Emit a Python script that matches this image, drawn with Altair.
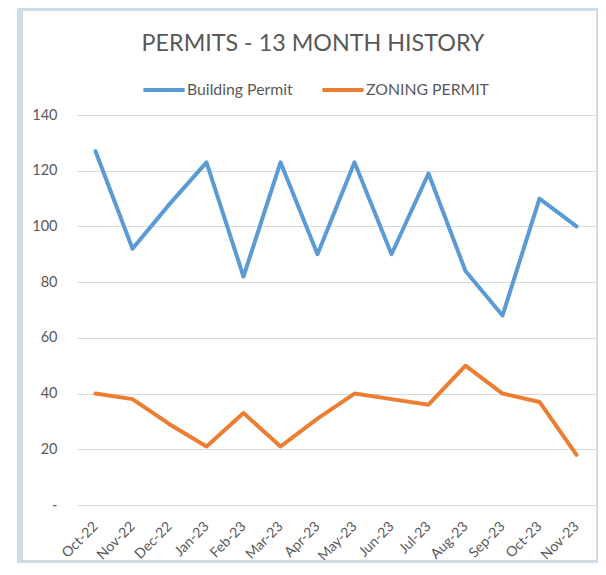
import altair as alt
import pandas as pd

months = ["Oct-22", "Nov-22", "Dec-22", "Jan-23", "Feb-23", "Mar-23", "Apr-23",
          "May-23", "Jun-23", "Jul-23", "Aug-23", "Sep-23", "Oct-23", "Nov-23"]
building_permit = [127, 92, 108, 123, 82, 123, 90, 123, 90, 119, 84, 68, 110, 100]
zoning_permit = [40, 38, 29, 21, 33, 21, 31, 40, 38, 36, 50, 40, 37, 18]
series_names = ["Building Permit", "ZONING PERMIT"]
series_colors = ["#5B9BD5", "#ED7D31"]
y_ticks = [0, 20, 40, 60, 80, 100, 120, 140]

df = pd.DataFrame({
    "month": months + months,
    "value": building_permit + zoning_permit,
    "series": [series_names[0]] * len(months) + [series_names[1]] * len(months),
})

FONT = "Lato"
TXT = "#595959"

frame_df = pd.DataFrame({"k": [0]})
glow = alt.Chart(frame_df).mark_rect(
    fill="transparent", stroke="#C9DDF0", strokeWidth=5
).encode(x=alt.value(-57.5), x2=alt.value(522.5), y=alt.value(-107.5), y2=alt.value(448))
inner = alt.Chart(frame_df).mark_rect(
    fill="transparent", stroke="#D9D9D9", strokeWidth=1
).encode(x=alt.value(-54.5), x2=alt.value(519.5), y=alt.value(-104.5), y2=alt.value(445.5))

lines = alt.Chart(df).mark_line(strokeWidth=4, strokeCap="round", strokeJoin="round").encode(
    x=alt.X("month:N", sort=months, title=None,
            scale=alt.Scale(type="point", padding=0.5),
            axis=alt.Axis(labelAngle=-45, labelFontSize=14, labelColor=TXT, labelFont=FONT,
                          ticks=False, domain=False, grid=False, labelPadding=14,
                          labelOffset=-5)),
    y=alt.Y("value:Q", title=None,
            scale=alt.Scale(domain=[0, 140], nice=False),
            axis=alt.Axis(values=y_ticks, labelFontSize=14.5, labelColor=TXT, labelFont=FONT,
                          ticks=False, domain=False, gridColor="#D9D9D9", gridWidth=1,
                          labelPadding=20,
                          labelExpr="datum.value == 0 ? '-\u00a0\u00a0' : datum.label")),
    color=alt.Color("series:N", sort=series_names,
                    scale=alt.Scale(domain=series_names, range=series_colors),
                    legend=alt.Legend(orient="none", legendX=64, legendY=-48, direction="horizontal",
                                      title=None, symbolType="stroke", symbolSize=1700,
                                      symbolStrokeWidth=4, labelFontSize=15.8, labelColor=TXT,
                                      labelFont=FONT, labelOffset=0, columnPadding=21)),
)

chart = alt.layer(glow, inner, lines).properties(
    width=518, height=390,
    title=alt.Title("PERMITS - 13 MONTH HISTORY", fontSize=23.3, font=FONT, fontWeight="normal",
                    color=TXT, anchor="middle", dx=-23, offset=-51),
    autosize=alt.AutoSizeParams(type="none"),
    padding={"left": 69, "top": 107, "right": 3, "bottom": 58},
).configure_view(stroke=None)

chart.save("out.html", embed_options={"renderer": "svg", "actions": False})
